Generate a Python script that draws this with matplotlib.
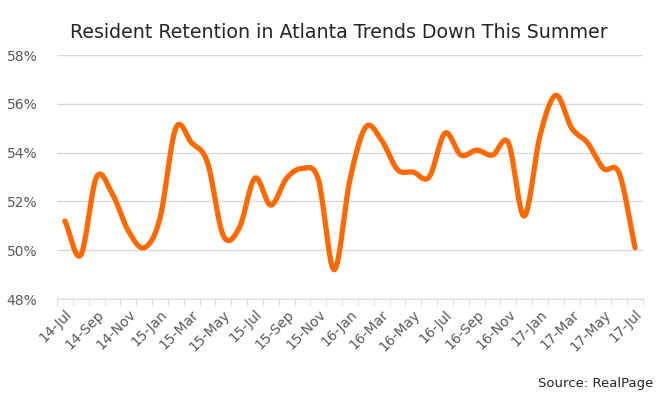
import numpy as np
import matplotlib.pyplot as plt
from matplotlib.ticker import FixedLocator

# monthly resident retention, 14-Jul .. 17-Jul
months = ['14-Jul', '14-Aug', '14-Sep', '14-Oct', '14-Nov', '14-Dec',
          '15-Jan', '15-Feb', '15-Mar', '15-Apr', '15-May', '15-Jun',
          '15-Jul', '15-Aug', '15-Sep', '15-Oct', '15-Nov', '15-Dec',
          '16-Jan', '16-Feb', '16-Mar', '16-Apr', '16-May', '16-Jun',
          '16-Jul', '16-Aug', '16-Sep', '16-Oct', '16-Nov', '16-Dec',
          '17-Jan', '17-Feb', '17-Mar', '17-Apr', '17-May', '17-Jun',
          '17-Jul']
retention = [51.2, 49.8, 53.0, 52.3, 50.8, 50.1,
             51.3, 55.0, 54.4, 53.6, 50.6, 50.9,
             52.95, 51.85, 52.95, 53.35, 52.9, 49.2,
             52.9, 55.05, 54.5, 53.3, 53.2, 53.0,
             54.8, 53.9, 54.1, 53.9, 54.4, 51.4,
             54.7, 56.35, 55.0, 54.4, 53.35, 53.15,
             50.1]
yticks = [48, 50, 52, 54, 56, 58]

plt.rcParams['font.family'] = ['DejaVu Sans']


def smooth(x, y, n=20):
    # Catmull-Rom style smoothing like the spreadsheet's "smoothed line"
    x = np.asarray(x, float)
    y = np.asarray(y, float)
    px = np.concatenate([[2 * x[0] - x[1]], x, [2 * x[-1] - x[-2]]])
    py = np.concatenate([[2 * y[0] - y[1]], y, [2 * y[-1] - y[-2]]])
    xs, ys = [], []
    t = np.linspace(0, 1, n, endpoint=False)
    for i in range(1, len(px) - 2):
        p0, p1, p2, p3 = py[i - 1], py[i], py[i + 1], py[i + 2]
        q0, q1, q2, q3 = px[i - 1], px[i], px[i + 1], px[i + 2]
        ys.append(0.5 * ((2 * p1) + (-p0 + p2) * t + (2 * p0 - 5 * p1 + 4 * p2 - p3) * t ** 2
                         + (-p0 + 3 * p1 - 3 * p2 + p3) * t ** 3))
        xs.append(0.5 * ((2 * q1) + (-q0 + q2) * t + (2 * q0 - 5 * q1 + 4 * q2 - q3) * t ** 2
                         + (-q0 + 3 * q1 - 3 * q2 + q3) * t ** 3))
    xs.append([x[-1]])
    ys.append([y[-1]])
    return np.concatenate(xs), np.concatenate(ys)


fig = plt.figure(figsize=(6.63, 3.94), dpi=100)
ax = fig.add_axes([57 / 663, 1 - 299 / 394, 586 / 663, 244 / 394])

x = np.arange(len(retention))
sx, sy = smooth(x, retention)
ax.plot(sx, sy, color='#FF6A00', linewidth=3.8, solid_capstyle='round', zorder=3)

ax.set_xlim(-0.5, len(retention) - 0.5)
ax.set_ylim(48, 58)
ax.set_yticks(yticks)
ax.set_yticklabels([f'{v}%' for v in yticks])
ax.yaxis.grid(True, color='#D9D9D9', linewidth=1)
ax.set_axisbelow(True)

label_pos = x[::2]
ax.set_xticks(label_pos)
ax.set_xticklabels([months[i] for i in label_pos],
                   rotation=45, ha='right', rotation_mode='anchor')
ax.xaxis.set_minor_locator(FixedLocator(np.arange(len(retention) + 1) - 0.5))
ax.tick_params(axis='x', which='major', length=0, pad=6, labelsize=10, colors='#595959')
ax.tick_params(axis='x', which='minor', length=5, color='#D9D9D9', direction='out')
ax.tick_params(axis='y', length=0, pad=14, labelsize=10, colors='#595959')

for s in ['top', 'right', 'left']:
    ax.spines[s].set_visible(False)
ax.spines['bottom'].set_color('#D9D9D9')

fig.text(339 / 663, 1 - 32 / 394, 'Resident Retention in Atlanta Trends Down This Summer',
         ha='center', va='center', fontsize=13.7, color='#262626')
fig.text(653 / 663, 1 - 383 / 394, 'Source: RealPage', ha='right', va='center',
         fontsize=9.5, color='#262626')

fig.savefig('out.png', dpi=100)
